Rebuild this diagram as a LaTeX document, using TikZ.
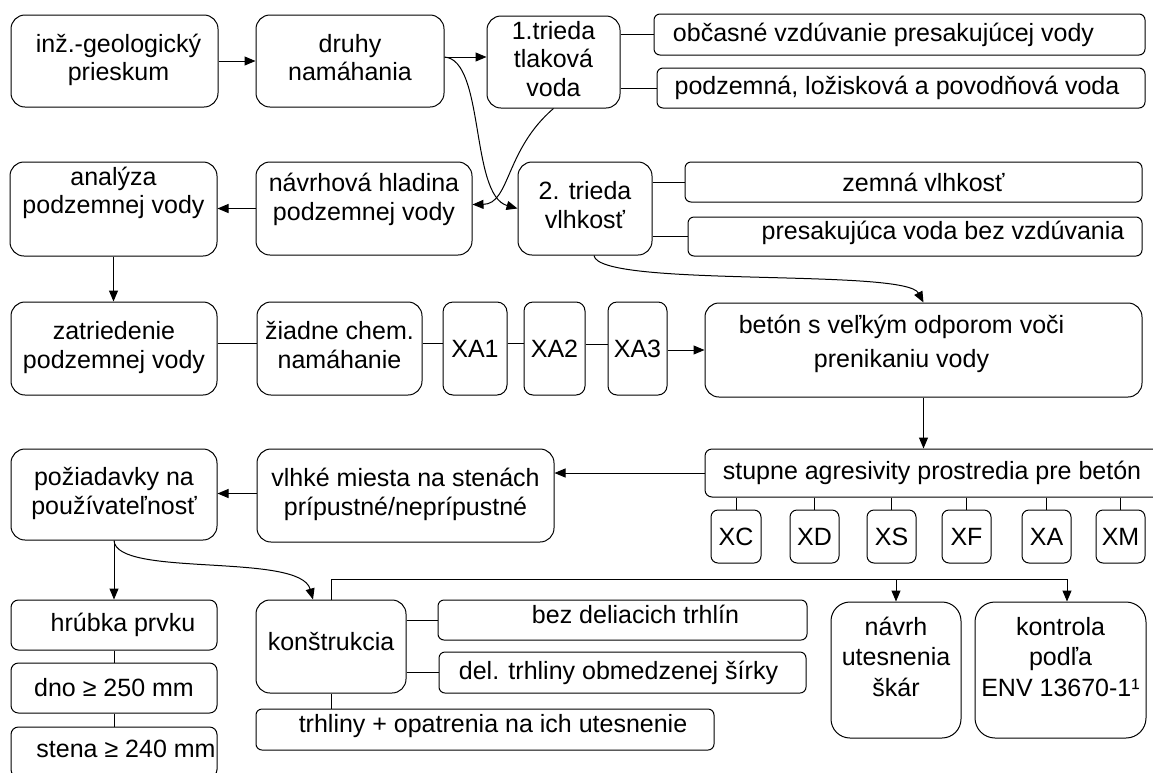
\documentclass[tikz,border=0pt]{standalone}
\usepackage{fontspec}
\setmainfont{Liberation Sans}
\usetikzlibrary{arrows.meta}
\newsavebox\shbox
\newcommand\sh[3]{\sbox\shbox{#3}\raisebox{#2}[\ht\shbox][\dp\shbox]{\hspace*{#1}\usebox\shbox\hspace*{-#1}}}
\newcommand\ml[1]{\begin{tabular}{@{}c@{}}#1\end{tabular}}
\begin{document}
\begin{tikzpicture}[x=1pt,y=-1pt,
  bx/.style={draw=black, line width=1pt, fill=white, inner sep=0pt, font=\fontsize{25}{28.5}\selectfont, text=black},
  ln/.style={line width=1pt, draw=black},
  arr/.style={ln, -{Triangle[length=11pt,width=9pt]}}]
\useasboundingbox (0,0) rectangle (1153,772);
\fill[white] (0,0) rectangle (1153,772);
% row 1
\node[bx, minimum width=207pt, minimum height=92pt, rounded corners=14pt] (A) at (114.5,61) {\sh{4pt}{0pt}{\ml{inž.-geologický\\prieskum}}};
\node[bx, minimum width=188pt, minimum height=92pt, rounded corners=14pt] (B) at (350,61) {\ml{druhy\\namáhania}};
\node[bx, minimum width=133pt, minimum height=92pt, rounded corners=14pt] (C) at (553.5,62) {\ml{1.trieda\\tlaková\\voda}};
\node[bx, minimum width=491pt, minimum height=41pt, rounded corners=6pt] (C1) at (899.5,34.5) {\sh{-16pt}{0pt}{občasné vzdúvanie presakujúcej vody}};
\node[bx, minimum width=488pt, minimum height=40pt, rounded corners=6pt] (C2) at (901,88) {\sh{-4pt}{0pt}{podzemná, ložisková a povodňová voda}};
% row 2
\node[bx, minimum width=207pt, minimum height=94pt, rounded corners=14pt] (D) at (113.5,209) {\sh{0pt}{15pt}{\ml{analýza\\podzemnej vody}}};
\node[bx, minimum width=216pt, minimum height=93pt, rounded corners=14pt] (E) at (364,208.5) {\sh{0pt}{8pt}{\ml{návrhová hladina\\podzemnej vody}}};
\node[bx, minimum width=134pt, minimum height=93pt, rounded corners=14pt] (F) at (585,208.5) {\ml{2. trieda\\vlhkosť}};
\node[bx, minimum width=457pt, minimum height=40pt, rounded corners=6pt] (F1) at (913.5,182) {\sh{10pt}{0pt}{zemná vlhkosť}};
\node[bx, minimum width=454pt, minimum height=39pt, rounded corners=6pt] (F2) at (915,236.5) {\sh{28pt}{4pt}{presakujúca voda bez vzdúvania}};
% row 3
\node[bx, minimum width=206pt, minimum height=93pt, rounded corners=14pt] (G) at (114,348.5) {\ml{zatriedenie\\podzemnej vody}};
\node[bx, minimum width=165pt, minimum height=93pt, rounded corners=14pt] (H) at (339.5,348.5) {\ml{žiadne chem.\\namáhanie}};
\node[bx, minimum width=64pt, minimum height=93pt, rounded corners=10pt] (XA1) at (475,348.5) {XA1};
\node[bx, minimum width=61pt, minimum height=93pt, rounded corners=9pt] (XA2) at (554.5,348.5) {XA2};
\node[bx, minimum width=59pt, minimum height=93pt, rounded corners=9pt] (XA3) at (637.5,348.5) {XA3};
\node[bx, minimum width=437pt, minimum height=94pt, rounded corners=14pt] (I) at (923.5,350) {\sh{-22pt}{5pt}{\ml{betón s veľkým odporom voči\\[6pt]prenikaniu vody}}};
% row 4
\node[bx, minimum width=460pt, minimum height=48pt, rounded corners=7pt] (J) at (935,473) {\sh{-3pt}{0pt}{stupne agresivity prostredia pre betón}};
\node[bx, minimum width=50pt, minimum height=53pt, rounded corners=7pt] (XC) at (736,536.5) {XC};
\node[bx, minimum width=49pt, minimum height=53pt, rounded corners=7pt] (XD) at (814.5,536.5) {XD};
\node[bx, minimum width=49pt, minimum height=53pt, rounded corners=7pt] (XS) at (891.5,536.5) {XS};
\node[bx, minimum width=49pt, minimum height=53pt, rounded corners=7pt] (XF) at (966.5,536.5) {XF};
\node[bx, minimum width=49pt, minimum height=53pt, rounded corners=7pt] (XAx) at (1046.5,536.5) {XA};
\node[bx, minimum width=49pt, minimum height=53pt, rounded corners=7pt] (XM) at (1120.5,536.5) {XM};
\node[bx, minimum width=297pt, minimum height=93pt, rounded corners=14pt] (K) at (405.5,495.5) {\ml{vlhké miesta na stenách\\prípustné/neprípustné}};
\node[bx, minimum width=206pt, minimum height=91pt, rounded corners=14pt] (L) at (114,494.5) {\ml{požiadavky na\\používateľnosť}};
% row 5
\node[bx, minimum width=206pt, minimum height=50pt, rounded corners=7.5pt] (M) at (114,625) {\sh{9pt}{0pt}{hrúbka prvku}};
\node[bx, minimum width=206pt, minimum height=50pt, rounded corners=7.5pt] (N) at (114,688) {dno ≥ 250 mm};
\node[bx, minimum width=206pt, minimum height=50pt, rounded corners=7.5pt] (O) at (114,752) {\sh{12pt}{3pt}{stena ≥ 240 mm}};
\node[bx, minimum width=150pt, minimum height=93pt, rounded corners=14pt] (P) at (331,646.5) {\sh{0pt}{5pt}{konštrukcia}};
\node[bx, minimum width=369pt, minimum height=40pt, rounded corners=6pt] (Q) at (622.5,620) {\sh{13pt}{6pt}{bez deliacich trhlín}};
\node[bx, minimum width=367pt, minimum height=41pt, rounded corners=6pt] (R) at (622.5,672.5) {\sh{-4pt}{0pt}{del. trhliny obmedzenej šírky}};
\node[bx, minimum width=458pt, minimum height=41pt, rounded corners=6pt] (S) at (485,729.5) {\sh{8pt}{3pt}{trhliny + opatrenia na ich utesnenie}};
\node[bx, minimum width=130pt, minimum height=136pt, rounded corners=19pt] (T) at (896,670) {\sh{0pt}{10pt}{\ml{návrh\\[2pt]utesnenia\\[2pt]škár}}};
\node[bx, minimum width=171pt, minimum height=136pt, rounded corners=20pt] (U) at (1060.5,670) {\sh{0pt}{10pt}{\ml{kontrola\\[2pt]podľa\\[2pt]ENV 13670-1¹}}};
% connectors row 1
\draw[arr] (A.east) -- (B.west);
\draw[arr] ([yshift=4pt]B.east) -- ([yshift=4pt]B.east -| C.west);
\draw[ln] (C.east |- C1.west) -- (C1.west);
\draw[ln] (C.east |- C2.west) -- (C2.west);
\draw[arr] ([yshift=4pt]B.east) .. controls (485,60) and (470,195) .. (F.west);
\draw[arr] (C.south) .. controls (505,150) and (510,204) .. ([yshift=4pt]E.east);
% row 2
\draw[arr] (E.west) -- (E.west -| D.east);
\draw[ln] (F.east |- F1.west) -- (F1.west);
\draw[ln] (F.east |- F2.west) -- (F2.west);
\draw[arr] (D.south) -- (D.south |- G.north);
\draw[arr] ([xshift=9pt]F.south) .. controls (598,288) and (905,268) .. (I.north);
% row 3
\draw[ln] ([yshift=5pt]G.east) -- ([yshift=5pt]G.east -| H.west);
\draw[ln] ([yshift=5pt]H.east) -- ([yshift=5pt]H.east -| XA1.west);
\draw[ln] ([yshift=5pt]XA1.east) -- ([yshift=5pt]XA1.east -| XA2.west);
\draw[ln] ([yshift=4pt]XA2.east) -- ([yshift=4pt]XA2.east -| XA3.west);
\draw[arr] (XA3.east |- I.west) -- (I.west);
\draw[arr] (I.south) -- (I.south |- J.north);
% row 4
\draw[arr] (J.west) -- (J.west -| K.east);
\draw[arr] ([yshift=2pt]K.west) -- ([yshift=2pt]K.west -| L.east);
\foreach \n in {XC,XD,XS,XF,XAx,XM} \draw[ln] (\n.north |- J.south) -- (\n.north);
% row 5
\draw[arr] (L.south) -- (M.north);
\draw[ln] (M.south) -- (N.north);
\draw[ln] (N.south) -- (O.north);
\draw[arr] (L.south) .. controls (116,578) and (300,552) .. ([xshift=-18pt]P.north);
\draw[ln] (P.east |- Q.west) -- (Q.west);
\draw[ln] (P.east |- R.west) -- (R.west);
\draw[ln] (P.south) -- (P.south |- S.north);
\coordinate (busL) at (331,579);
\coordinate (busR) at (1067,579);
\draw[ln] (P.north) -- (busL) -- (busR);
\draw[arr] (T.north |- busL) -- (T.north);
\draw[arr] (busR) -- (busR |- U.north);
\end{tikzpicture}
\end{document}
